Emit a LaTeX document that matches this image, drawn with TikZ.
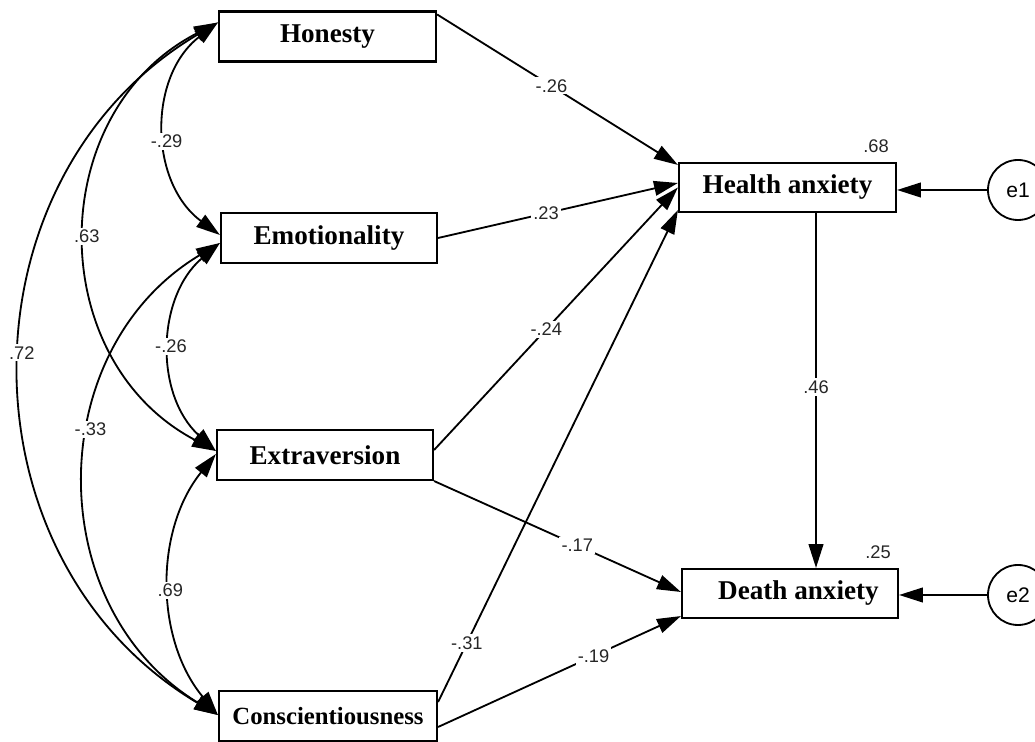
\documentclass[tikz,border=0pt]{standalone}
\usepackage{fontspec}
\setmainfont{Liberation Serif}
\newfontfamily\lsans{Liberation Sans}
\usetikzlibrary{arrows.meta,calc}
\begin{document}
\begin{tikzpicture}[x=0.025cm,y=0.025cm,
  box/.style={draw, line width=1.5pt, rectangle, minimum width=5.425cm, minimum height=1.25cm, inner sep=0pt,
    font=\fontsize{19.3}{22}\selectfont\bfseries},
  errc/.style={draw, line width=1.3pt, circle, minimum size=1.5cm, inner sep=0pt, font=\lsans\fontsize{15}{17}\selectfont},
  lbl/.style={fill=white, inner sep=1.5pt, text=black!85, font=\lsans\fontsize{13}{15}\selectfont},
  rlbl/.style={inner sep=0pt, text=black!85, font=\lsans\fontsize{13}{15}\selectfont},
  conn/.style={line width=1.3pt, -{Triangle[length=17pt,width=10.5pt]}},
  cov/.style={line width=1.3pt, {Triangle[length=17pt,width=10.5pt]}-{Triangle[length=17pt,width=10.5pt]}}
]
\useasboundingbox (0,0) rectangle (1035,742);

% boxes
\node[box] (hon) at (327.5,705.5) {Honesty};
\node[box, minimum width=5.4cm] (emo) at (329,504) {Emotionality};
\node[box, minimum width=5.4cm] (ext) at (325,287) {Extraversion};
\node[box, minimum width=5.45cm, font=\fontsize{17.6}{20}\selectfont\bfseries] (con) at (328,26) {Conscientiousness};
\node[box, minimum height=1.225cm] (ha) at (787.5,554.5) {Health anxiety};
\node[box, minimum width=5.4cm, minimum height=1.225cm] (da) at (790,148.5) {\hspace{12pt}Death anxiety};

% error terms
\node[errc] (e1) at (1018,552) {e1};
\node[errc] (e2) at (1018,147) {e2};

% R-squared labels
\node[rlbl] (r1) at ($(ha.north east)+(-21,16)$) {.68};
\node[rlbl] (r2) at ($(da.north east)+(-21,16)$) {.25};

% arc end points
\coordinate (hT) at ($(hon.west)+(0,14)$);
\coordinate (eT1) at ($(emo.west)+(0,3)$);
\coordinate (eT2) at ($(emo.west)+(0,-5)$);
\coordinate (xT1) at ($(ext.west)+(0,4)$);
\coordinate (xT2) at ($(ext.west)+(0,1)$);
\coordinate (cT) at ($(con.west)+(0,1)$);

% covariances
\draw[cov] (hT) to[bend right=53, looseness=1.063] node[lbl, pos=0.55] {-.29} (eT1);
\draw[cov] (eT2) to[bend right=48.6, looseness=1.025] node[lbl, pos=0.5] {-.26} (xT1);
\draw[cov] (xT2) to[bend right=39.4, looseness=0.961] node[lbl, pos=0.52] {.69} (cT);
\draw[cov] (hT) to[bend right=62.5, looseness=1.166] node[lbl, pos=0.5] {.63} (xT1);
\draw[cov] (eT2) to[bend right=58.8, looseness=1.122] node[lbl, pos=0.41] {-.33} (cT);
\draw[cov] (hT) to[bend right=59.3, looseness=1.128] node[lbl, pos=0.48] {.72} (cT);

% regressions
\draw[conn] ($(hon.north east)+(0,-4)$) -- node[lbl, pos=0.475] {-.26} ($(ha.north west)+(0,-3)$);
\draw[conn] (emo.east) -- node[lbl, pos=0.45] {.23} ($(ha.west)+(0,4.5)$);
\draw[conn] ($(ext.east)+(0,5)$) -- node[lbl, pos=0.46] {-.24} (ha.west);
\draw[conn] ($(con.east)+(0,14)$) -- node[lbl, pos=0.12] {-.31} ($(ha.south west)+(0,3)$);
\draw[conn] (ext.south east) -- node[lbl, pos=0.58] {-.17} ($(da.west)+(0,1.5)$);
\draw[conn] ($(con.east)+(0,-11)$) -- node[lbl, pos=0.64] {-.19} ($(da.south west)+(0,3)$);
\draw[conn] ($(ha.south)+(28.5,0)$) -- node[lbl, pos=0.49] {.46} ($(da.north)+(26,0)$);

% residuals
\draw[conn] (e1.west) -- (e1.west -| ha.east);
\draw[conn] (e2.west) -- (e2.west -| da.east);
\end{tikzpicture}
\end{document}
